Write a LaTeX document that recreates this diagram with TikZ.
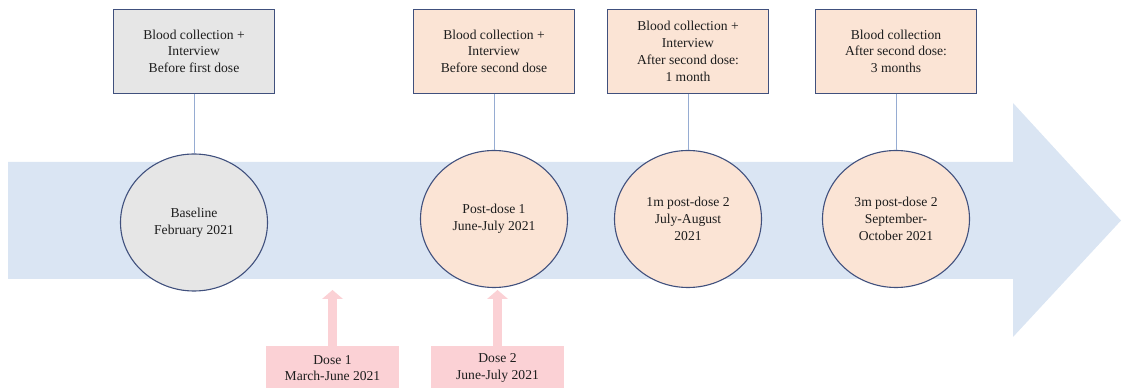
\documentclass[tikz,border=0pt]{standalone}
\usepackage{fontspec}
\setmainfont{Liberation Serif}
\usetikzlibrary{shapes.geometric,arrows.meta}
\definecolor{grayc}{RGB}{230,230,230}
\definecolor{peachc}{RGB}{251,228,213}
\definecolor{bandc}{RGB}{218,229,243}
\definecolor{pinkc}{RGB}{251,209,213}
\definecolor{linkc}{RGB}{150,172,210}
\definecolor{edgec}{RGB}{64,80,125}
\definecolor{txtc}{RGB}{30,30,30}
\begin{document}
\begin{tikzpicture}[x=1pt,y=1pt,
  every node/.style={font=\fontsize{13.6}{16.8}\selectfont, text=txtc},
  infobox/.style={draw=edgec, line width=1.1pt, minimum width=161pt, minimum height=84pt, inner sep=0pt, align=center},
  stagenode/.style={ellipse, draw=edgec, line width=1.1pt, minimum width=147pt, minimum height=137pt, inner sep=0pt, align=center},
  dosebox/.style={fill=pinkc, minimum width=133pt, minimum height=44pt, inner sep=0pt, align=center},
  link/.style={draw=linkc, line width=1pt},
  dosearrow/.style={draw=pinkc, line width=9pt, -{Triangle[width=21pt,length=9pt,line width=0pt]}}]
\useasboundingbox (0,0) rectangle (1122,388);
% timeline band arrow
\fill[bandc] (8,226) -- (1013,226) -- (1013,285) -- (1121,167.5) -- (1013,51) -- (1013,109) -- (8,109) -- cycle;
% info boxes
\node[infobox, fill=grayc] (b1) at (194,336.8) {Blood collection +\\Interview\\Before first dose};
\node[infobox, fill=peachc] (b2) at (494,336.8) {Blood collection +\\Interview\\Before second dose};
\node[infobox, fill=peachc] (b3) at (688,336.8) {Blood collection +\\Interview\\After second dose:\\1 month};
\node[infobox, fill=peachc] (b4) at (896,336.8) {Blood collection\\After second dose:\\3 months};
% stage ellipses
\node[stagenode, fill=grayc] (c1) at (194,165.5) {Baseline\\February 2021};
\node[stagenode, fill=peachc] (c2) at (494,169) {Post-dose 1\\June-July 2021};
\node[stagenode, fill=peachc] (c3) at (688,169) {1m post-dose 2\\July-August\\2021};
\node[stagenode, fill=peachc] (c4) at (896,169) {3m post-dose 2\\September-\\October 2021};
% connectors
\draw[link] (b1) -- (c1);
\draw[link] (b2) -- (c2);
\draw[link] (b3) -- (c3);
\draw[link] (b4) -- (c4);
% dose boxes and arrows
\node[dosebox] (d1) at (332.5,20) {Dose 1\\March-June 2021};
\node[dosebox] (d2) at (497.5,20) {Dose 2\\June-July 2021};
\coordinate (t1) at (332.5,98);
\coordinate (t2) at (497.5,98);
\draw[dosearrow] (d1.north) -- (t1);
\draw[dosearrow] (d2.north) -- (t2);
\end{tikzpicture}
\end{document}
